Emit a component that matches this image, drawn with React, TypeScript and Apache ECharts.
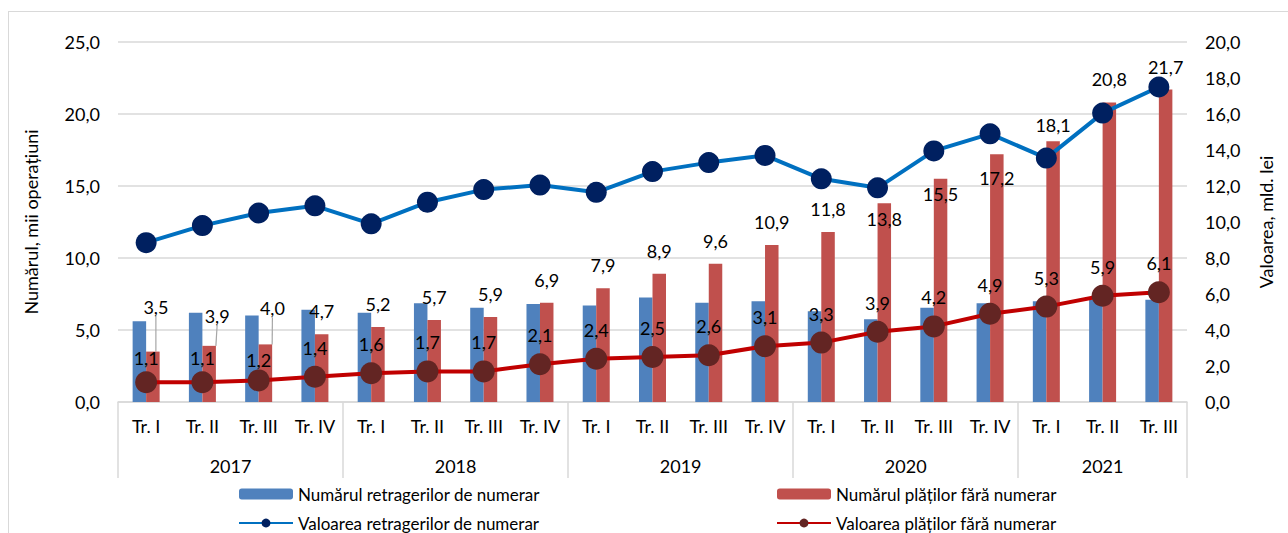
import React, { useEffect, useRef } from "react";
import * as echarts from "echarts";

const quarters = [
  "Tr. I", "Tr. II", "Tr. III", "Tr. IV",
  "Tr. I", "Tr. II", "Tr. III", "Tr. IV",
  "Tr. I", "Tr. II", "Tr. III", "Tr. IV",
  "Tr. I", "Tr. II", "Tr. III", "Tr. IV",
  "Tr. I", "Tr. II", "Tr. III",
];
const years = ["2017", "2018", "2019", "2020", "2021"];
const quartersPerYear = [4, 4, 4, 4, 3];

const retrageriNumar = [5.6, 6.2, 6.0, 6.4, 6.2, 6.85, 6.55, 6.8, 6.7, 7.25, 6.9, 7.0, 6.3, 5.75, 6.55, 6.85, 7.0, 7.1, 7.1];
const platiNumar = [3.5, 3.9, 4.0, 4.7, 5.2, 5.7, 5.9, 6.9, 7.9, 8.9, 9.6, 10.9, 11.8, 13.8, 15.5, 17.2, 18.1, 20.8, 21.7];
const retrageriValoare = [8.85, 9.8, 10.5, 10.9, 9.9, 11.1, 11.8, 12.05, 11.65, 12.8, 13.3, 13.7, 12.4, 11.9, 13.95, 14.9, 13.55, 16.05, 17.5];
const platiValoare = [1.1, 1.1, 1.2, 1.4, 1.6, 1.7, 1.7, 2.1, 2.4, 2.5, 2.6, 3.1, 3.3, 3.9, 4.2, 4.9, 5.3, 5.9, 6.1];

const seriesNames = [
  "Numărul retragerilor de numerar",
  "Numărul plăților fără numerar",
  "Valoarea retragerilor de numerar",
  "Valoarea plăților fără numerar",
];

const FONT = "Lato";
const fmt = (v: number) => v.toFixed(1).replace(".", ",");

// label placement tweaks (style only)
const barLabelShift: Record<number, [number, number]> = { 0: [3, -22], 1: [8, -7], 2: [7, -13] };
const barLabelInside: Record<number, number> = { 13: 7, 14: 6, 15: 15 };
const barLabelDistance: Record<number, number> = { 16: 7 };
const lineLabelDistance: Record<number, number> = { 0: 4, 1: 4, 2: 0 };

export default function App() {
  const ref = useRef<HTMLDivElement>(null);

  useEffect(() => {
    if (!ref.current) return;
    const chart = echarts.init(ref.current, undefined, { renderer: "svg" });

    const bounds: number[] = [0];
    quartersPerYear.forEach((n) => bounds.push(bounds[bounds.length - 1] + n));
    const centers = years.map((_, i) => (bounds[i] + bounds[i + 1]) / 2);

    const platiBarData = platiNumar.map((v, i) => {
      const item: any = { value: v };
      if (barLabelInside[i] !== undefined) {
        item.label = { position: "insideTop", distance: barLabelInside[i] };
      } else if (barLabelDistance[i] !== undefined) {
        item.label = { distance: barLabelDistance[i] };
      }
      if (barLabelShift[i]) {
        item.labelLine = { show: true, lineStyle: { color: "#a6a6a6", width: 1.2 } };
      }
      return item;
    });

    const platiLineData = platiValoare.map((v, i) => {
      const item: any = { value: v };
      if (lineLabelDistance[i] !== undefined) item.label = { distance: lineLabelDistance[i] };
      return item;
    });

    const labelText = { color: "#000", fontFamily: FONT, fontSize: 18 };
    const legendText = { fontFamily: FONT, fontSize: 17, color: "#000", lineHeight: 18 };

    chart.setOption({
      animation: false,
      textStyle: { fontFamily: FONT },
      grid: { left: 118, right: 101, top: 42, bottom: 131 },
      legend: [
        {
          orient: "vertical",
          left: 238,
          top: 485,
          padding: 0,
          itemWidth: 54,
          itemHeight: 11,
          itemGap: 11,
          data: [seriesNames[0], seriesNames[2]],
          textStyle: legendText,
        },
        {
          orient: "vertical",
          left: 776,
          top: 485,
          padding: 0,
          itemWidth: 54,
          itemHeight: 11,
          itemGap: 11,
          data: [seriesNames[1], seriesNames[3]],
          textStyle: legendText,
        },
      ],
      xAxis: [
        {
          type: "category",
          data: quarters,
          position: "bottom",
          axisLine: { lineStyle: { color: "#d9d9d9", width: 1.5 } },
          axisTick: { show: false },
          axisLabel: { color: "#000", fontFamily: FONT, fontSize: 18, margin: 15, interval: 0 },
        },
        {
          type: "value",
          min: 0,
          max: bounds[bounds.length - 1],
          position: "bottom",
          axisLine: { show: false },
          splitLine: { show: false },
          axisTick: {
            show: true,
            customValues: bounds,
            length: 76,
            lineStyle: { color: "#d9d9d9", width: 1.5 },
          },
          axisLabel: {
            show: true,
            customValues: centers,
            margin: 55,
            color: "#000",
            fontFamily: FONT,
            fontSize: 18,
            formatter: (v: number) => {
              const idx = centers.findIndex((c) => Math.abs(c - v) < 1e-6);
              return idx >= 0 ? years[idx] : "";
            },
          },
        },
      ],
      yAxis: [
        {
          type: "value",
          min: 0,
          max: 25,
          interval: 5,
          name: "Numărul, mii operațiuni",
          nameLocation: "middle",
          nameRotate: 90,
          nameGap: 78,
          nameTextStyle: { color: "#000", fontFamily: FONT, fontSize: 18 },
          axisLine: { show: false },
          axisTick: { show: false },
          axisLabel: { color: "#000", fontFamily: FONT, fontSize: 18, margin: 18, formatter: fmt },
          splitLine: { lineStyle: { color: "#d9d9d9", width: 1.5 } },
        },
        {
          type: "value",
          min: 0,
          max: 20,
          interval: 2,
          name: "Valoarea, mld. lei",
          nameLocation: "middle",
          nameRotate: 90,
          nameGap: 70,
          nameTextStyle: { color: "#000", fontFamily: FONT, fontSize: 18 },
          axisLine: { show: false },
          axisTick: { show: false },
          axisLabel: { color: "#000", fontFamily: FONT, fontSize: 18, margin: 18, formatter: fmt },
          splitLine: { show: false },
        },
      ],
      series: [
        {
          name: seriesNames[0],
          type: "bar",
          data: retrageriNumar,
          barWidth: 13.5,
          barGap: "0%",
          itemStyle: { color: "#4f81bd" },
          z: 2,
        },
        {
          name: seriesNames[1],
          type: "bar",
          data: platiBarData,
          barWidth: 13.5,
          barGap: "0%",
          itemStyle: { color: "#c0504d" },
          label: {
            show: true,
            position: "top",
            distance: 14,
            ...labelText,
            formatter: (p: any) => fmt(p.value),
          },
          labelLine: { show: false },
          labelLayout: (p: any) => {
            const s = barLabelShift[p.dataIndex];
            return s ? { dx: s[0], dy: s[1] } : {};
          },
          z: 2,
        },
        {
          name: seriesNames[2],
          type: "line",
          yAxisIndex: 1,
          data: retrageriValoare,
          symbol: "circle",
          symbolSize: 21,
          lineStyle: { color: "#0070c0", width: 4 },
          itemStyle: { color: "#002060" },
          z: 4,
        },
        {
          name: seriesNames[3],
          type: "line",
          yAxisIndex: 1,
          data: platiLineData,
          symbol: "circle",
          symbolSize: 22,
          lineStyle: { color: "#c00000", width: 4 },
          itemStyle: { color: "#632523" },
          label: {
            show: true,
            position: "top",
            distance: 9,
            ...labelText,
            formatter: (p: any) => fmt(p.value),
          },
          z: 5,
        },
      ],
    });

    return () => chart.dispose();
  }, []);

  return (
    <div style={{ position: "absolute", left: 0, top: 0, width: 1288, height: 533, overflow: "hidden" }}>
      <div
        style={{
          position: "absolute",
          left: 8,
          top: 11,
          width: 1280,
          height: 522,
          boxSizing: "border-box",
          borderLeft: "1.5px solid #d9d9d9",
          borderTop: "1.5px solid #d9d9d9",
        }}
      />
      <div ref={ref} style={{ position: "absolute", left: 0, top: 0, width: 1288, height: 533 }} />
    </div>
  );
}
